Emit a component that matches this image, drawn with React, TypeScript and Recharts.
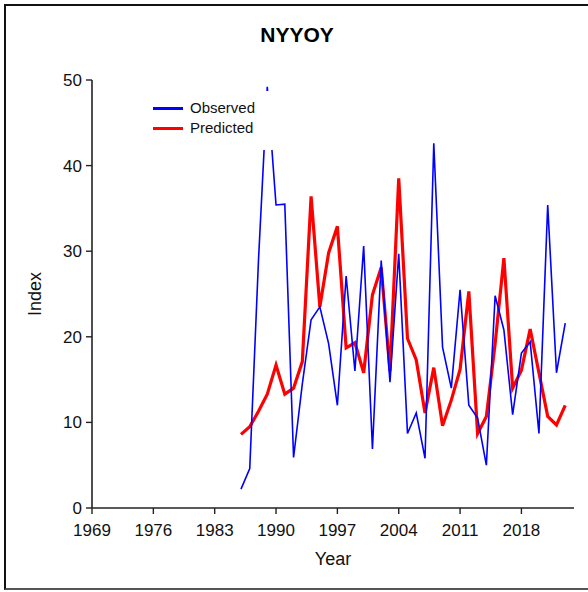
import { Legend, Line, LineChart, XAxis, YAxis } from "recharts";

const years = [
  1986, 1987, 1988, 1989, 1990, 1991, 1992, 1993, 1994, 1995, 1996, 1997, 1998,
  1999, 2000, 2001, 2002, 2003, 2004, 2005, 2006, 2007, 2008, 2009, 2010, 2011,
  2012, 2013, 2014, 2015, 2016, 2017, 2018, 2019, 2020, 2021, 2022, 2023,
];

const observed = [
  2.2, 4.6, 29, 49.2, 35.4, 35.5, 5.9, 14.5, 22.0, 23.5, 19.2, 12.0, 27.1,
  16.0, 30.6, 6.9, 28.9, 14.7, 29.7, 8.7, 11.1, 5.8, 42.6, 18.8, 14.0, 25.5,
  12.0, 10.5, 5.0, 24.8, 20.8, 10.9, 18.1, 19.4, 8.7, 35.4, 15.8, 21.6,
];

const predicted = [
  8.6, 9.5, 11.3, 13.3, 16.7, 13.3, 14.0, 17.1, 36.4, 23.5, 29.8, 32.9, 18.7,
  19.3, 15.8, 24.9, 28.1, 16.0, 38.5, 19.8, 17.3, 11.1, 16.4, 9.6, 12.6, 16.2,
  25.3, 8.7, 10.7, 19.2, 29.2, 14.0, 16.1, 20.9, 15.8, 10.7, 9.7, 12.0,
];

const xTicks = [1969, 1976, 1983, 1990, 1997, 2004, 2011, 2018];
const yTicks = [0, 10, 20, 30, 40, 50];
const legendOrder = ["Observed", "Predicted"];

const chartData = years.map((year, i) => ({
  year,
  observed: observed[i],
  predicted: predicted[i],
}));

const font = "'Liberation Sans', Arial, sans-serif";
const axisColor = "#222";

function LegendContent({ payload }: any) {
  const items = [...(payload || [])].sort(
    (a: any, b: any) => legendOrder.indexOf(a.value) - legendOrder.indexOf(b.value)
  );
  return (
    <div style={{ paddingTop: 7 }}>
      {items.map((entry: any) => (
        <div
          key={entry.value}
          style={{ display: "flex", alignItems: "center", height: 20 }}
        >
          <div
            style={{
              marginLeft: 13,
              width: 30,
              height: 3,
              background: entry.color,
            }}
          />
          <span
            style={{
              marginLeft: 7,
              fontSize: 15,
              color: "#111",
              fontFamily: font,
              lineHeight: "20px",
            }}
          >
            {entry.value}
          </span>
        </div>
      ))}
    </div>
  );
}

function IndexLabel(props: any) {
  const vb = props.viewBox || { x: 22, y: 80, width: 70, height: 428 };
  const cx = vb.x + 13;
  const cy = vb.y + vb.height / 2;
  return (
    <text
      x={cx}
      y={cy}
      transform={`rotate(-90 ${cx} ${cy})`}
      textAnchor="middle"
      dominantBaseline="central"
      fontSize={18}
      fill="#111"
      fontFamily={font}
    >
      Index
    </text>
  );
}

export default function App() {
  return (
    <div
      style={{
        position: "absolute",
        left: 0,
        top: 0,
        width: 588,
        height: 592,
        overflow: "hidden",
        background: "#fff",
      }}
    >
      <div
        style={{
          position: "absolute",
          left: 4,
          top: 4,
          width: 620,
          height: 582,
          border: "2px solid #111",
          borderBottomColor: "#555",
        }}
      />
      <div
        style={{
          position: "absolute",
          left: 3,
          top: 24,
          width: 588,
          textAlign: "center",
          fontFamily: font,
          fontWeight: "bold",
          fontSize: 21,
          lineHeight: 1,
          color: "#000",
        }}
      >
        NYYOY
      </div>
      <div style={{ position: "absolute", left: 0, top: 0 }}>
        <LineChart
          width={588}
          height={592}
          data={chartData}
          margin={{ top: 80, right: 14, left: 22, bottom: 14 }}
          style={{ fontFamily: font }}
        >
          <XAxis
            dataKey="year"
            type="number"
            domain={[1969, 2024]}
            ticks={xTicks}
            interval={0}
            allowDataOverflow
            height={70}
            tickSize={6}
            tickMargin={10}
            tick={{ fill: "#111", fontSize: 17 }}
            axisLine={{ stroke: axisColor, strokeWidth: 1.6 }}
            tickLine={{ stroke: axisColor, strokeWidth: 1.4 }}
            label={{
              value: "Year",
              position: "insideBottom",
              offset: 13,
              fontSize: 18,
              fill: "#111",
            }}
          />
          <YAxis
            type="number"
            domain={[0, 50]}
            ticks={yTicks}
            interval={0}
            width={70}
            tickSize={6}
            tickMargin={4}
            tick={{ fill: "#111", fontSize: 17 }}
            axisLine={{ stroke: axisColor, strokeWidth: 1.6 }}
            tickLine={{ stroke: axisColor, strokeWidth: 1.4 }}
            label={<IndexLabel />}
          />
          <Legend
            layout="horizontal"
            verticalAlign="middle"
            align="center"
            content={<LegendContent />}
            wrapperStyle={{
              left: 140,
              top: 91,
              width: 140,
              height: 59,
              background: "#fff",
            }}
          />
          <Line
            type="linear"
            dataKey="predicted"
            name="Predicted"
            stroke="#ff0000"
            strokeWidth={3.2}
            dot={false}
            isAnimationActive={false}
          />
          <Line
            type="linear"
            dataKey="observed"
            name="Observed"
            stroke="#0000ff"
            strokeWidth={1.6}
            dot={false}
            isAnimationActive={false}
          />
        </LineChart>
      </div>
    </div>
  );
}
